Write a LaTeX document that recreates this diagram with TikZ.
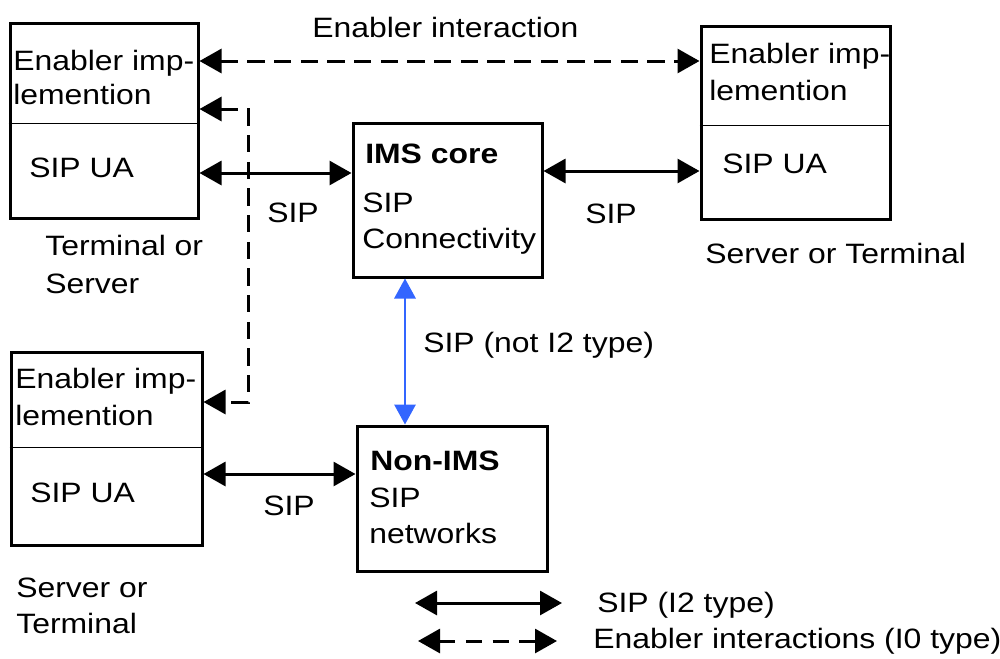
\documentclass[tikz,border=0pt]{standalone}
\usepackage{fontspec}
\setmainfont{Liberation Sans}[FakeStretch=1.14]
\usetikzlibrary{arrows.meta,fit}
\definecolor{sipblue}{RGB}{51,102,255}
\begin{document}
\begin{tikzpicture}[x=0.75pt,y=-0.75pt,
  box/.style={draw, line width=2.25pt, inner sep=0pt},
  lbl/.style={inner sep=0pt, anchor=base west, font=\fontsize{21}{27}\selectfont},
  blbl/.style={lbl, font=\fontsize{21}{27}\selectfont\bfseries},
  divider/.style={line width=0.75pt},
  tip/.tip={Triangle[length=16.5pt,width=18pt]},
  btip/.tip={Triangle[length=15pt,width=16pt]},
  sipline/.style={line width=2.25pt, tip-tip},
  enabline/.style={sipline, dash pattern=on 13pt off 7pt},
  blueline/.style={sipblue, line width=1.5pt, btip-btip}]
\useasboundingbox (0,0) rectangle (1000,658);

% boxes
\node[box, fit={(10,23) (198,218)}] (tl) {};
\node[box, fit={(701,26) (890,219)}] (tr) {};
\node[box, fit={(353,123) (542,277)}] (ims) {};
\node[box, fit={(11,352) (202,545)}] (bl) {};
\node[box, fit={(357,426) (547,571)}] (nims) {};

% dividers
\coordinate (d1) at (0,123);
\coordinate (d2) at (0,125);
\coordinate (d3) at (0,447);
\draw[divider] (tl.west |- d1) -- (tl.east |- d1);
\draw[divider] (tr.west |- d2) -- (tr.east |- d2);
\draw[divider] (bl.west |- d3) -- (bl.east |- d3);

% helper coordinates
\coordinate (y61) at (0,61);
\coordinate (y173) at (0,173);
\coordinate (y171) at (0,171);
\coordinate (y474) at (0,474);
\coordinate (y109) at (0,109);
\coordinate (y402) at (0,402);
\coordinate (x405) at (405,0);
\coordinate (v1) at (248,109);
\coordinate (v2) at (248,402);

% connectors
\draw[enabline] (tl.east |- y61) -- (tr.west |- y61);
\draw[sipline] (tl.east |- y173) -- (ims.west |- y173);
\draw[sipline] (ims.east |- y171) -- (tr.west |- y171);
\draw[sipline] (bl.east |- y474) -- (nims.west |- y474);
\draw[enabline] (tl.east |- y109) -- (v1) -- (v2) -- (bl.east |- y402);
\draw[blueline] (x405 |- ims.south) -- (x405 |- nims.north);

% legend
\coordinate (la1) at (415,603);
\coordinate (la2) at (562,603);
\coordinate (lb1) at (418,641);
\coordinate (lb2) at (557,641);
\draw[sipline] (la1) -- (la2);
\draw[enabline, dash pattern=on 12pt off 8pt] (lb1) -- (lb2);

% texts
\node[lbl] (title) at (312,37) {Enabler interaction};

\node[lbl] (tl1) at (13,70) {Enabler imp-};
\node[lbl] (tl2) at (13,104) {lemention};
\node[lbl] (tl3) at (29,177) {SIP UA};
\node[lbl] (tlc1) at (45,255) {Terminal or};
\node[lbl] (tlc2) at (45,293) {Server};

\node[lbl] (sip1) at (267,222) {SIP};
\node[lbl] (sip2) at (585,223) {SIP};
\node[lbl] (sip3) at (263,515) {SIP};

\node[blbl] (ims1) at (365,163) {IMS core};
\node[lbl] (ims2) at (362,212) {SIP};
\node[lbl] (ims3) at (362,248) {Connectivity};

\node[lbl] (tr1) at (709,63) {Enabler imp-};
\node[lbl] (tr2) at (709,100) {lemention};
\node[lbl] (tr3) at (722,173) {SIP UA};
\node[lbl] (trc) at (705,263) {Server or Terminal};

\node[lbl] (blue) at (423,352) {SIP (not I2 type)};

\node[lbl] (bl1) at (15,388) {Enabler imp-};
\node[lbl] (bl2) at (15,425) {lemention};
\node[lbl] (bl3) at (30,502) {SIP UA};
\node[lbl] (blc1) at (16,597) {Server or};
\node[lbl] (blc2) at (16,633) {Terminal};

\node[blbl] (nims1) at (370,470) {Non-IMS};
\node[lbl] (nims2) at (369,507) {SIP};
\node[lbl] (nims3) at (369,543) {networks};

\node[lbl] (leg1) at (597,612) {SIP (I2 type)};
\node[lbl] (leg2) at (593,648) {Enabler interactions (I0 type)};
\end{tikzpicture}
\end{document}
